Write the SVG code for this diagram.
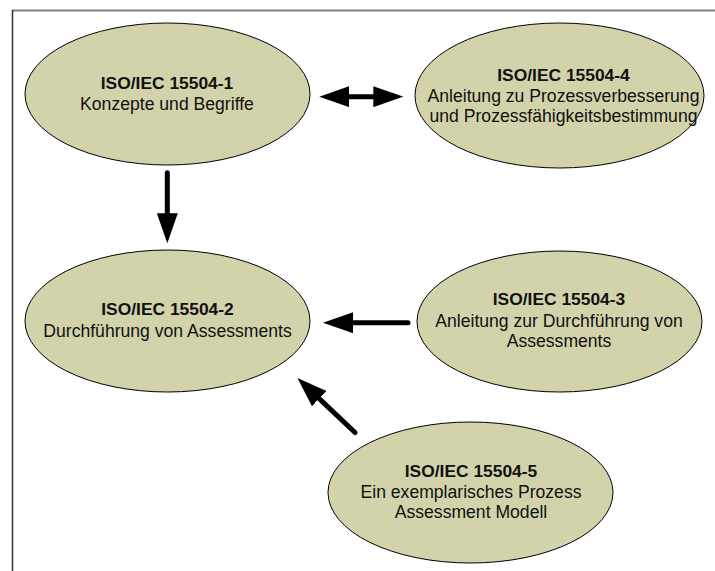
<svg xmlns="http://www.w3.org/2000/svg" width="715" height="571" viewBox="0 0 715 571">
  <style>
    .node ellipse { fill: #d3d3ab; stroke: #000; stroke-width: 1; }
    .node text { font-family: "Liberation Sans", Arial, sans-serif; font-size: 17.6px; fill: #111; text-anchor: middle; }
    .node .title { font-weight: bold; font-size: 17.4px; }
    .conn { stroke: #000; stroke-width: 5; stroke-linecap: round; fill: none; }
  </style>
  <defs>
    <!-- arrowhead with its reference point at the base, 30px long, 21px wide -->
    <marker id="head" viewBox="0 0 6 4.2" refX="0" refY="2.1" markerWidth="6" markerHeight="4.2" orient="auto-start-reverse" markerUnits="strokeWidth">
      <path d="M0,0 L6,2.1 L0,4.2 Z" fill="#000"/>
    </marker>
  </defs>

  <rect width="715" height="571" fill="#fff"/>

  <!-- frame -->
  <g id="frame">
    <line x1="12" y1="10.5" x2="715" y2="10.5" stroke="#808080" stroke-width="2"/>
    <line x1="12.5" y1="10" x2="12.5" y2="571" stroke="#333" stroke-width="1.5"/>
  </g>

  <g id="n1" class="node">
    <ellipse cx="167.5" cy="94" rx="142.5" ry="71"/>
    <text x="167" y="89.3" class="title">ISO/IEC 15504-1</text>
    <text x="167" y="110">Konzepte und Begriffe</text>
  </g>

  <g id="n4" class="node">
    <ellipse cx="559.5" cy="95.5" rx="144.5" ry="72.5"/>
    <text x="563.5" y="80.7" class="title">ISO/IEC 15504-4</text>
    <text x="563.5" y="101.7">Anleitung zu Prozessverbesserung</text>
    <text x="563.5" y="121.7">und Prozessfähigkeitsbestimmung</text>
  </g>

  <g id="n2" class="node">
    <ellipse cx="167.5" cy="321" rx="142.5" ry="71"/>
    <text x="167.5" y="315" class="title">ISO/IEC 15504-2</text>
    <text x="167.5" y="336.7">Durchführung von Assessments</text>
  </g>

  <g id="n3" class="node">
    <ellipse cx="559.5" cy="321.5" rx="142.5" ry="70.5"/>
    <text x="559" y="305" class="title">ISO/IEC 15504-3</text>
    <text x="559" y="326.7">Anleitung zur Durchführung von</text>
    <text x="559" y="347">Assessments</text>
  </g>

  <g id="n5" class="node">
    <ellipse cx="470.5" cy="492.5" rx="142.5" ry="70.5"/>
    <text x="471" y="476.7" class="title">ISO/IEC 15504-5</text>
    <text x="471" y="497.7">Ein exemplarisches Prozess</text>
    <text x="471" y="518">Assessment Modell</text>
  </g>

  <g id="connectors">
    <!-- 1 <-> 4 -->
    <line class="conn" x1="349.3" y1="96.7" x2="373.3" y2="96.7" stroke-linecap="butt" marker-start="url(#head)" marker-end="url(#head)"/>
    <!-- 1 -> 2 -->
    <line class="conn" x1="167.3" y1="172.7" x2="167.3" y2="213.3" marker-end="url(#head)"/>
    <!-- 3 -> 2 -->
    <line class="conn" x1="408" y1="322.7" x2="353" y2="322.7" marker-end="url(#head)"/>
    <!-- 5 -> 2 -->
    <line class="conn" x1="355" y1="432.5" x2="319.2" y2="398.6" marker-end="url(#head)"/>
  </g>
</svg>
